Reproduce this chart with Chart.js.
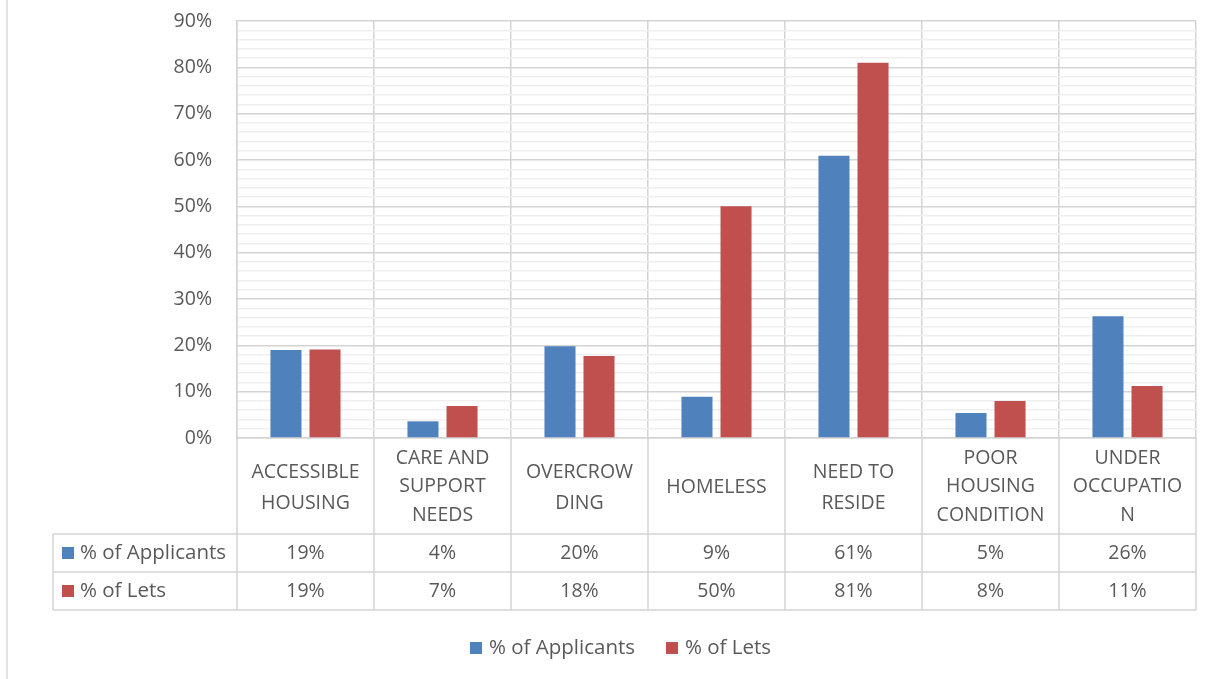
<!DOCTYPE html>
<html>
<head>
<meta charset="utf-8">
<script src="https://cdn.jsdelivr.net/npm/chart.js@4.4.0/dist/chart.umd.min.js"></script>
<style>
  html, body { margin: 0; padding: 0; background: #ffffff; }
  #wrap { width: 1220px; height: 679px; position: relative; }
</style>
</head>
<body>
<div id="wrap"><canvas id="c" width="1220" height="679"></canvas></div>
<script>
// ---- data ----
const categories = [
  ['ACCESSIBLE', 'HOUSING'],
  ['CARE AND', 'SUPPORT', 'NEEDS'],
  ['OVERCROW', 'DING'],
  ['HOMELESS'],
  ['NEED TO', 'RESIDE'],
  ['POOR', 'HOUSING', 'CONDITION'],
  ['UNDER', 'OCCUPATIO', 'N']
];
const seriesNames = ['% of Applicants', '% of Lets'];
const applicants = [19.0, 3.6, 19.8, 8.9, 60.9, 5.4, 26.3];
const lets = [19.1, 6.9, 17.7, 50.0, 81.0, 8.0, 11.2];
const tableApplicants = ['19%', '4%', '20%', '9%', '61%', '5%', '26%'];
const tableLets = ['19%', '7%', '18%', '50%', '81%', '8%', '11%'];
const yTickLabels = ['0%', '10%', '20%', '30%', '40%', '50%', '60%', '70%', '80%', '90%'];

const colors = ['#4F81BD', '#C0504D'];
const textColor = '#595959';
const FONT = '"Open Sans", Lato, "Liberation Sans", sans-serif';
const FSIZE = 19.5;
const LSIZE = 20.5;
const majorGrid = '#d4d4d4';
const minorGrid = '#efefef';

const tablePlugin = {
  id: 'dataTable',
  afterDraw(chart) {
    const ctx = chart.ctx;
    const area = chart.chartArea;
    const xs = chart.scales.x;
    const n = categories.length;
    const step = (area.right - area.left) / n;
    const rowTop = 534, row2Top = 572, tableBottom = 610, tableLeft = 53;

    ctx.save();
    // outer chart border line on left
    ctx.strokeStyle = '#d9d9d9';
    ctx.lineWidth = 1.5;
    ctx.beginPath();
    ctx.moveTo(7, 0); ctx.lineTo(7, 679);
    ctx.stroke();

    // table lines
    ctx.strokeStyle = majorGrid;
    ctx.lineWidth = 1.5;
    ctx.beginPath();
    for (let i = 0; i <= n; i++) {
      const xb = area.left + i * step;
      ctx.moveTo(xb, area.bottom); ctx.lineTo(xb, tableBottom);
    }
    [rowTop, row2Top, tableBottom].forEach(y => {
      ctx.moveTo(tableLeft, y); ctx.lineTo(area.right, y);
    });
    ctx.moveTo(tableLeft, rowTop); ctx.lineTo(tableLeft, tableBottom);
    ctx.stroke();

    // category labels
    ctx.fillStyle = textColor;
    ctx.font = FSIZE + 'px ' + FONT;
    ctx.textAlign = 'center';
    ctx.textBaseline = 'middle';
    categories.forEach((lines, i) => {
      const cx = xs.getPixelForValue(i);
      let ys;
      if (lines.length === 1) ys = [487];
      else if (lines.length === 2) ys = [472, 503];
      else ys = [458, 486.5, 515];
      lines.forEach((t, k) => ctx.fillText(t, cx, ys[k]));
      ctx.fillText(tableApplicants[i], cx, 553);
      ctx.fillText(tableLets[i], cx, 591);
    });

    // row headers with keys
    ctx.font = LSIZE + 'px ' + FONT;
    ctx.textAlign = 'left';
    [[553, 0], [591, 1]].forEach(([y, s]) => {
      ctx.fillStyle = colors[s];
      ctx.fillRect(62, y - 6, 12, 12);
      ctx.fillStyle = textColor;
      ctx.fillText(seriesNames[s], 80, y);
    });

    // legend
    const ly = 648;
    ctx.fillStyle = colors[0];
    ctx.fillRect(470, ly - 6, 12, 12);
    ctx.fillStyle = textColor;
    ctx.fillText(seriesNames[0], 489, ly);
    ctx.fillStyle = colors[1];
    ctx.fillRect(666, ly - 6, 12, 12);
    ctx.fillStyle = textColor;
    ctx.fillText(seriesNames[1], 685, ly);
    ctx.restore();
  }
};

new Chart(document.getElementById('c'), {
  type: 'bar',
  data: {
    labels: categories.map(c => c.join(' ')),
    datasets: [
      { label: seriesNames[0], data: applicants, backgroundColor: colors[0] },
      { label: seriesNames[1], data: lets, backgroundColor: colors[1] }
    ]
  },
  options: {
    responsive: false,
    animation: false,
    devicePixelRatio: 1,
    layout: { padding: { left: 0, right: 24, top: 21, bottom: 241 } },
    datasets: { bar: { categoryPercentage: 0.57, barPercentage: 0.795 } },
    plugins: { legend: { display: false }, tooltip: { enabled: false } },
    scales: {
      x: {
        grid: { offset: true, color: majorGrid, lineWidth: 1.5, drawTicks: false },
        border: { color: majorGrid, width: 1.5 },
        ticks: { display: false },
        afterFit: s => { s.height = 0; s.paddingLeft = 0; s.paddingRight = 0; }
      },
      y: {
        min: 0, max: 90,
        grid: {
          drawTicks: false,
          lineWidth: 1.5,
          color: c => (c.tick && c.tick.value % 10 === 0) ? majorGrid : minorGrid
        },
        border: { color: majorGrid, width: 1.5 },
        ticks: {
          stepSize: 2,
          autoSkip: false,
          padding: 25,
          color: textColor,
          font: { family: FONT, size: FSIZE },
          callback: v => (v % 10 === 0) ? yTickLabels[v / 10] : ''
        },
        afterFit: s => { s.width = 237; s.paddingTop = 0; s.paddingBottom = 0; }
      }
    }
  },
  plugins: [tablePlugin]
});
</script>
</body>
</html>
